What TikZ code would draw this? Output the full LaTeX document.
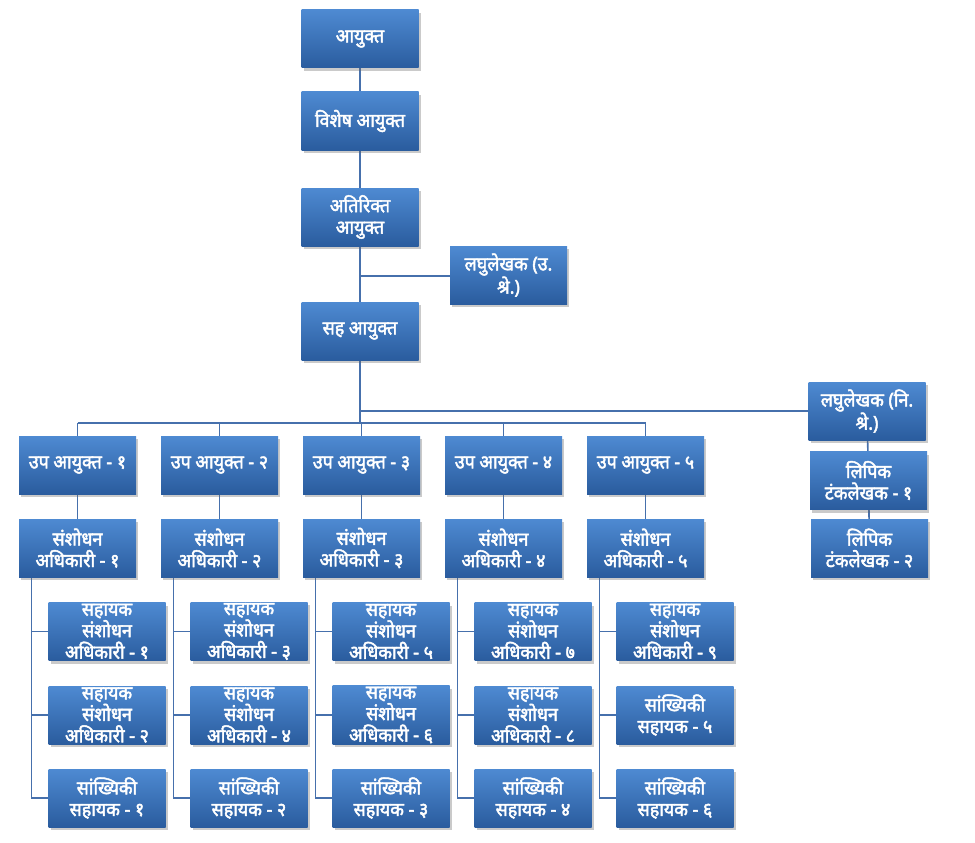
\documentclass[tikz,border=0pt]{standalone}
\usepackage{fontspec}
\newfontfamily\dev[Script=Devanagari, FakeBold=2.4, FakeStretch=0.94]{Noto Sans}
\usetikzlibrary{shadows,calc,backgrounds}
\definecolor{boxtop}{RGB}{78,138,210}
\definecolor{boxbot}{RGB}{42,92,158}
\definecolor{linec}{RGB}{70,112,172}
\begin{document}
\begin{tikzpicture}[x=1pt,y=-1pt,
  orgbox/.style={rectangle, minimum width=117pt, minimum height=58pt, inner sep=1pt,
    top color=boxtop, bottom color=boxbot, draw=none, text=white, align=center,
    font=\dev\fontsize{19}{21.5}\selectfont,
    drop shadow={shadow xshift=2pt, shadow yshift=-3pt, opacity=0.35, fill=black!60}},
  conn/.style={draw=linec, line width=1.6pt}]
\useasboundingbox (0,0) rectangle (975,843);
% main column
\node[orgbox] (a1) at (360,39) {आयुक्त};
\node[orgbox] (a2) at (360,121) {विशेष आयुक्त};
\node[orgbox] (a3) at (360,217) {अतिरिक्त\\आयुक्त};
\node[orgbox] (l1) at (508.5,275) {लघुलेखक (उ.\\श्रे.)};
\node[orgbox] (a4) at (360,331) {सह आयुक्त};
% right branch
\node[orgbox] (l2) at (867,411) {लघुलेखक (नि.\\श्रे.)};
\node[orgbox] (t1) at (868.5,480.5) {लिपिक\\टंकलेखक - १};
\node[orgbox] (t2) at (869.5,548) {लिपिक\\टंकलेखक - २};
% deputy row
\node[orgbox] (u1) at (77.5,465) {उप आयुक्त - १};
\node[orgbox] (u2) at (219.5,465) {उप आयुक्त - २};
\node[orgbox] (u3) at (361.5,465) {उप आयुक्त - ३};
\node[orgbox] (u4) at (503.5,465) {उप आयुक्त - ४};
\node[orgbox] (u5) at (645.5,465) {उप आयुक्त - ५};
\node[orgbox] (s1) at (77.5,548) {संशोधन\\अधिकारी - १};
\node[orgbox] (s2) at (219.5,548) {संशोधन\\अधिकारी - २};
\node[orgbox] (s3) at (361.5,548) {संशोधन\\अधिकारी - ३};
\node[orgbox] (s4) at (503.5,548) {संशोधन\\अधिकारी - ४};
\node[orgbox] (s5) at (645.5,548) {संशोधन\\अधिकारी - ५};
% sub boxes
\node[orgbox] (p1a) at (107,631.5) {सहायक\\संशोधन\\अधिकारी - १};
\node[orgbox] (p1b) at (107,715) {सहायक\\संशोधन\\अधिकारी - २};
\node[orgbox] (p1c) at (107,798) {सांख्यिकी\\सहायक - १};
\node[orgbox] (p2a) at (249,631.5) {सहायक\\संशोधन\\अधिकारी - ३};
\node[orgbox] (p2b) at (249,715) {सहायक\\संशोधन\\अधिकारी - ४};
\node[orgbox] (p2c) at (249,798) {सांख्यिकी\\सहायक - २};
\node[orgbox] (p3a) at (391,631.5) {सहायक\\संशोधन\\अधिकारी - ५};
\node[orgbox] (p3b) at (391,715) {सहायक\\संशोधन\\अधिकारी - ६};
\node[orgbox] (p3c) at (391,798) {सांख्यिकी\\सहायक - ३};
\node[orgbox] (p4a) at (533,631.5) {सहायक\\संशोधन\\अधिकारी - ७};
\node[orgbox] (p4b) at (533,715) {सहायक\\संशोधन\\अधिकारी - ८};
\node[orgbox] (p4c) at (533,798) {सांख्यिकी\\सहायक - ४};
\node[orgbox] (p5a) at (675,631.5) {सहायक\\संशोधन\\अधिकारी - ९};
\node[orgbox] (p5b) at (675,715) {सांख्यिकी\\सहायक - ५};
\node[orgbox] (p5c) at (675,798) {सांख्यिकी\\सहायक - ६};
% connectors
\begin{scope}[on background layer]
\draw[conn] (a1) -- (a2);
\draw[conn] (a2) -- (a3);
\draw[conn] (a3) -- (a4);
\coordinate (j1) at (360,276);
\draw[conn] (j1) -- (j1 -| l1.west);
\coordinate (bus) at (360,423);
\coordinate (jr) at (360,411);
\draw[conn] (a4.south) -- (bus);
\draw[conn] (jr) -- (l2.west);
\draw[conn] (u1.north |- bus) -- (u5.north |- bus);
\foreach \k in {1,...,5}{
  \draw[conn] (u\k.north |- bus) -- (u\k.north);
  \draw[conn] (u\k) -- (s\k);
  \coordinate (v\k) at ($(s\k.south)+(-46,0)$);
  \draw[conn] (v\k) |- (p\k c.west);
  \draw[conn] (v\k |- p\k a.west) -- (p\k a.west);
  \draw[conn] (v\k |- p\k b.west) -- (p\k b.west);
}
\draw[conn] (l2) -- (t1);
\draw[conn] (t1) -- (t2);
\end{scope}
\end{tikzpicture}
\end{document}
